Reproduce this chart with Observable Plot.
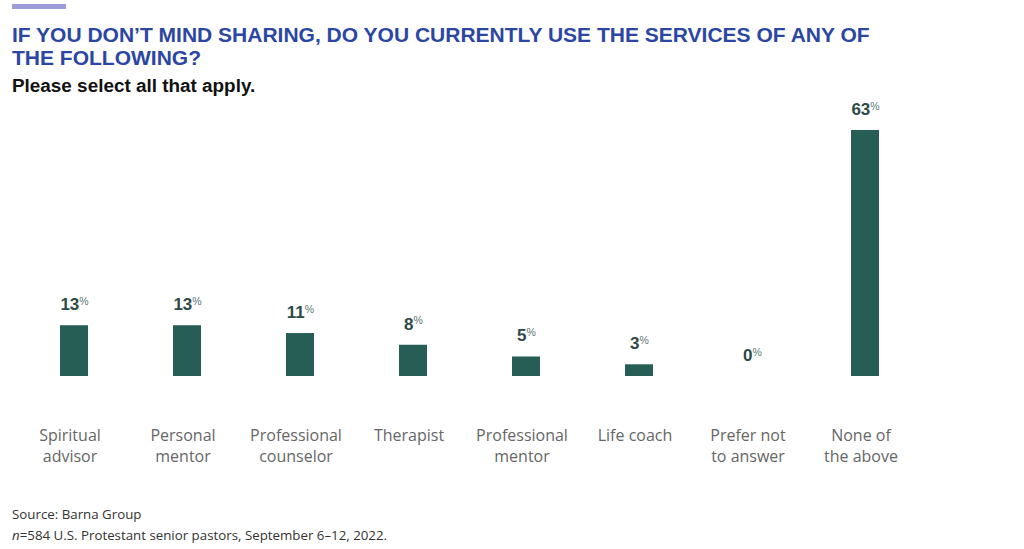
<!DOCTYPE html>
<html>
<head>
<meta charset="utf-8">
<script src="https://cdn.jsdelivr.net/npm/d3@7"></script>
<script src="https://cdn.jsdelivr.net/npm/@observablehq/plot@0.6"></script>
<style>
  html, body { margin: 0; padding: 0; background: #fff; }
  #page { position: relative; width: 1024px; height: 549px; overflow: hidden; }
  .accent { position: absolute; left: 12px; top: 4px; width: 54px; height: 5px; background: #9c9cd8; }
  .title { position: absolute; left: 12px; top: 23px; width: 980px; font-family: "Liberation Sans", Arial, sans-serif; font-weight: bold; font-size: 21px; line-height: 23px; color: #2c46a3; }
  .subtitle { position: absolute; left: 12px; top: 75px; font-family: "Liberation Sans", Arial, sans-serif; font-weight: bold; font-size: 18.9px; line-height: 22px; color: #111; }
  #chart { position: absolute; left: 0; top: 100px; }
  .footer { position: absolute; left: 12px; top: 504px; font-family: "Open Sans", sans-serif; font-size: 13.3px; line-height: 21px; color: #333; }
</style>
</head>
<body>
<div id="page">
  <div class="accent"></div>
  <div class="title">IF YOU DON’T MIND SHARING, DO YOU CURRENTLY USE THE SERVICES OF ANY OF<br>THE FOLLOWING?</div>
  <div class="subtitle">Please select all that apply.</div>
  <div id="chart"></div>
  <div class="footer">Source: Barna Group<br><i>n</i>=584 U.S. Protestant senior pastors, September 6–12, 2022.</div>
</div>
<script>
// Services used by pastors (share of respondents, %)
const services = [
  "Spiritual\nadvisor",
  "Personal\nmentor",
  "Professional\ncounselor",
  "Therapist",
  "Professional\nmentor",
  "Life coach",
  "Prefer not\nto answer",
  "None of\nthe above"
];
const shares = [13, 13, 11, 8, 5, 3, 0, 63];

const rows = services.map((service, i) => ({service, share: shares[i]}));

const barColor = "#265e56";
const labelColor = "#2d4a47";

const chart = Plot.plot({
  width: 1024,
  height: 370,
  marginLeft: 17.5,
  marginRight: 102.5,
  marginTop: 30,
  marginBottom: 94,
  x: {domain: services, paddingInner: 0.75, paddingOuter: 0.375, label: null},
  y: {domain: [0, 63], axis: null},
  marks: [
    Plot.barY(rows, {x: "service", y: "share", fill: barColor}),
    Plot.text(rows, {
      x: "service",
      y: "share",
      text: d => String(d.share),
      dy: -21,
      fontSize: 17,
      fontWeight: "bold",
      fill: labelColor,
      fontFamily: "Liberation Sans, Arial, sans-serif"
    }),
    Plot.axisX({
      tickSize: 0,
      tickPadding: 50,
      dx: -4.5,
      fontSize: 16,
      lineHeight: 1.3,
      fill: "#666",
      fontFamily: "Open Sans, sans-serif",
      label: null
    })
  ]
});

// small raised percent sign after each value label
d3.select(chart).selectAll('g[aria-label="text"] text').each(function () {
  d3.select(this).append("tspan")
    .attr("dy", "-0.5em")
    .attr("font-size", 10.5)
    .attr("font-weight", "normal")
    .attr("fill", "#5b7673")
    .text("%");
});

document.getElementById("chart").append(chart);
</script>
</body>
</html>
